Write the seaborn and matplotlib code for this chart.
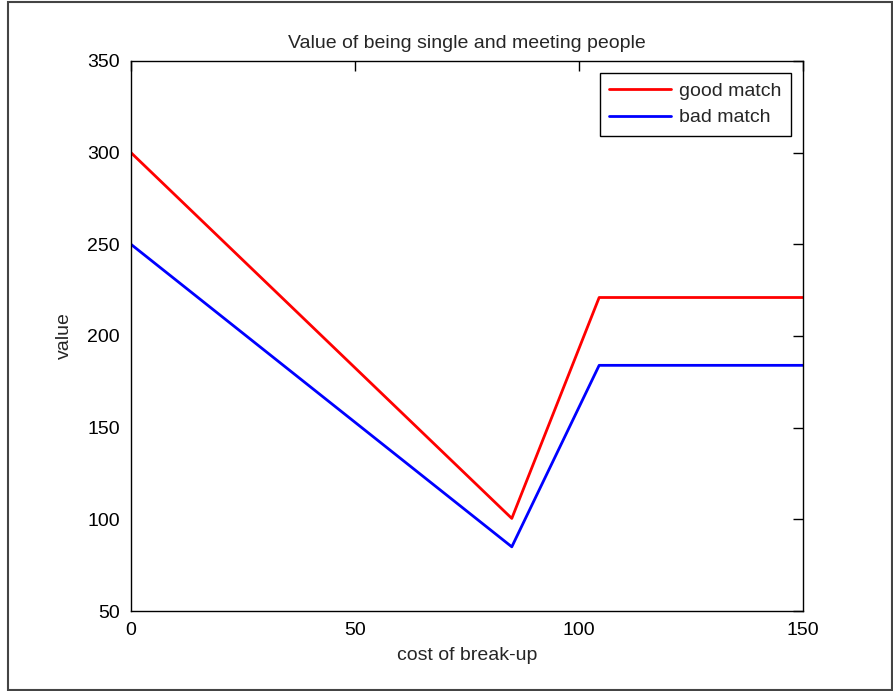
import matplotlib
matplotlib.use("Agg")
import matplotlib.pyplot as plt
import seaborn as sns
import pandas as pd
from matplotlib.patches import Rectangle

# values
cost = [0, 85, 104.5, 150]
good_match = [300, 100.5, 221, 221]
bad_match = [250, 85, 184, 184]
series_names = ["good match", "bad match"]
x_ticks = [0, 50, 100, 150]
y_ticks = [50, 100, 150, 200, 250, 300, 350]

df = pd.DataFrame({
    "cost": cost * 2,
    "value": good_match + bad_match,
    "match": [series_names[0]] * len(cost) + [series_names[1]] * len(cost),
})

sns.set_style("white")
plt.rcParams["font.family"] = ["Liberation Sans", "DejaVu Sans"]

fig = plt.figure(figsize=(8.93, 6.91), dpi=100)
ax = fig.add_axes([131 / 893, 80 / 691, 672 / 893, 550 / 691])

sns.lineplot(data=df, x="cost", y="value", hue="match", hue_order=series_names,
             palette=["#ff0000", "#0000ff"], linewidth=2, sort=False, ax=ax)

ax.set_xlim(0, 150)
ax.set_ylim(50, 350)
ax.set_xticks(x_ticks)
ax.set_yticks(y_ticks)
ax.tick_params(direction="in", length=7, width=1, top=True, right=True,
               labelsize=14, pad=8, colors="black")
for s in ax.spines.values():
    s.set_color("black")
    s.set_linewidth(1)

ax.set_title("Value of being single and meeting people", fontsize=14, pad=9)
ax.set_xlabel("cost of break-up", fontsize=14, labelpad=6)
ax.set_ylabel("value", fontsize=14, labelpad=10)

leg = ax.legend(loc="upper right", fontsize=14, frameon=True, fancybox=False,
                edgecolor="black", framealpha=1, handlelength=3.2,
                borderaxespad=0.6, handletextpad=0.4, labelspacing=0.45,
                borderpad=0.5)
leg.get_frame().set_linewidth(1)

# thin frame around the whole picture, as in the screenshot
fig.patches.append(Rectangle((8 / 893, 1 / 691), 884 / 893, 688 / 691,
                             transform=fig.transFigure, fill=False,
                             edgecolor="#444444", linewidth=1.5))

fig.savefig("out.png", dpi=100, facecolor="white")
